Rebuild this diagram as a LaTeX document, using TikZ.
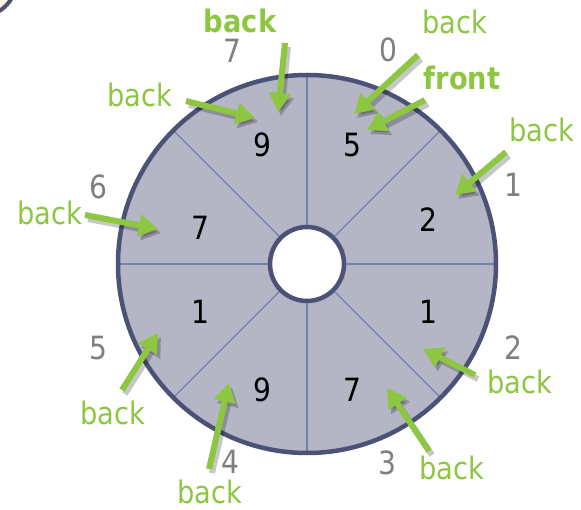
\documentclass[tikz,border=0pt]{standalone}
\usepackage{fontspec}
\setmainfont{DejaVu Sans}[FakeStretch=0.88]
\usetikzlibrary{arrows.meta}
\definecolor{ringfill}{HTML}{B4B5C5}
\definecolor{ringedge}{HTML}{4B5275}
\definecolor{spokeblue}{HTML}{7282B0}
\definecolor{idxgray}{HTML}{7F7F7F}
\definecolor{ptrgreen}{HTML}{8DC641}
\definecolor{cream}{HTML}{FFF6DC}
\tikzset{
  slotval/.style={inner sep=0pt, font=\fontsize{32}{34}\selectfont},
  slotidx/.style={inner sep=0pt, text=idxgray, font=\fontsize{32}{34}\selectfont},
  ptrlabel/.style={inner sep=0pt, text=ptrgreen, font=\fontsize{31}{32}\selectfont},
  ptrbold/.style={ptrlabel, font=\fontsize{31}{32}\selectfont\bfseries},
  ptrarrow/.style={ptrgreen, line width=6pt, -{Triangle[length=19pt,width=21pt]}},
  ptrshadow/.style={black, opacity=0.22, line width=6pt, -{Triangle[length=19pt,width=21pt]},
    transform canvas={shift={(3pt,-4pt)}}},
  spoke/.style={spokeblue, line width=1.3pt}
}
\begin{document}
\begin{tikzpicture}[x=1pt, y=1pt]
    \useasboundingbox (0,0) rectangle (581,-510);
    \clip (0,0) rectangle (581,-510);
    % corner of the neighbouring shape
    \filldraw[fill=cream, draw=ringedge, line width=4pt] (-20,20) circle[radius=36.5pt];
    % ring
    \coordinate (c) at (307,-264);
    \fill[ringfill] (c) circle[radius=189pt];
    \begin{scope}[shift={(307,-264)}]
        \foreach \a in {0,45,...,315}
            \draw[spoke] (\a:38pt) -- (\a:189pt);
    \end{scope}
    \draw[ringedge, line width=4.5pt] (c) circle[radius=189pt];
    \filldraw[fill=white, draw=ringedge, line width=4.5pt] (c) circle[radius=37pt];
    % slot values
    \foreach \n/\x/\y/\v in {0/352/-145/5, 1/428/-220/2, 2/428/-312/1, 3/352/-390/7,
                             4/262/-390/9, 5/200/-312/1, 6/200/-228/7, 7/262/-145/9}
        \node[slotval] (v\n) at (\x,\y) {\v};
    % slot indices
    \foreach \n/\x/\y in {0/388/-50, 1/513/-185, 2/513/-348, 3/387/-463,
                          4/230/-462, 5/98/-348, 6/98/-187, 7/232/-51}
        \node[slotidx] (i\n) at (\x,\y) {\n};
    % pointer labels
    \node[ptrbold] (back7) at (240,-21) {back};
    \node[ptrlabel] (back7b) at (140,-95) {back};
    \node[ptrlabel] (back0) at (455,-22) {back};
    \node[ptrbold] (front0) at (462,-78) {front};
    \node[ptrlabel] (back1) at (542,-130) {back};
    \node[ptrlabel] (back6) at (50,-213) {back};
    \node[ptrlabel] (back5) at (113,-413) {back};
    \node[ptrlabel] (back4) at (210,-492) {back};
    \node[ptrlabel] (back2) at (520,-382) {back};
    \node[ptrlabel] (back3) at (452,-468) {back};
    % pointer arrows
    \foreach \n/\tx/\ty/\hx/\hy in {a/285/-43/278/-112, b/186/-101/255/-118,
            c/418/-55/354/-114, d/425/-100/367/-130, e/506/-152/455/-195,
            f/85/-215/158/-229, g/122/-390/158/-333, h/209/-469/229/-383,
            i/475/-375/423/-349, j/429/-451/387/-388} {
        \coordinate (tail\n) at (\tx,\ty);
        \coordinate (tip\n) at (\hx,\hy);
        \draw[ptrshadow] (tail\n) -- (tip\n);
        \draw[ptrarrow] (tail\n) -- (tip\n);
    }
\end{tikzpicture}
\end{document}
